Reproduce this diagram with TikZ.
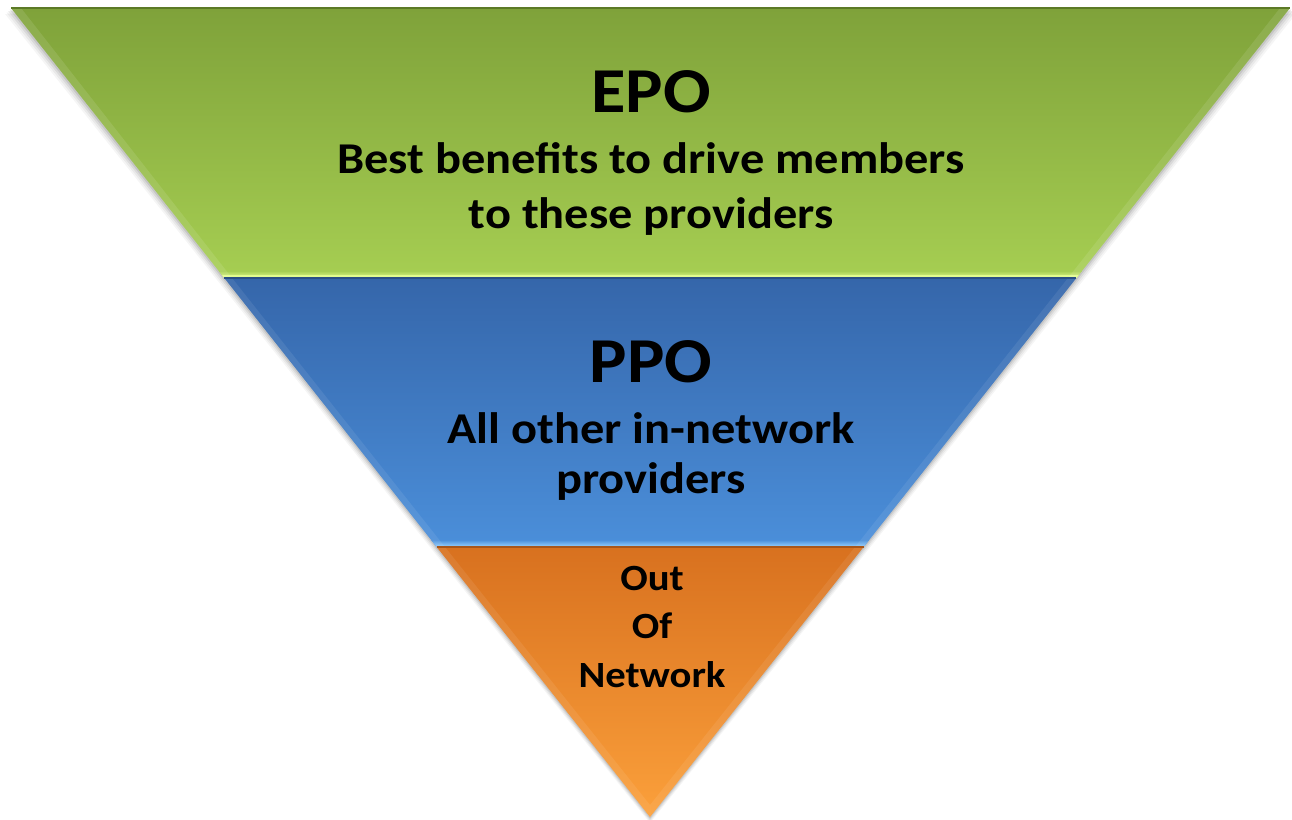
\documentclass[tikz,border=0pt]{standalone}
\usepackage{fontspec}
\setmainfont{Carlito}[FakeStretch=1.1]
\definecolor{gTop}{HTML}{7FA23A}
\definecolor{gBot}{HTML}{A6CE52}
\definecolor{gLite}{HTML}{E2FC8E}
\definecolor{gDark}{HTML}{5C7A26}
\definecolor{bTop}{HTML}{3566AA}
\definecolor{bBot}{HTML}{4B8FDA}
\definecolor{bLite}{HTML}{9AD4FF}
\definecolor{bDark}{HTML}{2A4F86}
\definecolor{oTop}{HTML}{D8711F}
\definecolor{oBot}{HTML}{FBA03B}
\definecolor{oDark}{HTML}{A8561A}
\tikzset{
  big/.style={anchor=base,font=\bfseries\fontsize{64}{64}\selectfont,inner sep=0pt},
  mid/.style={anchor=base,font=\bfseries\fontsize{44}{44}\selectfont,inner sep=0pt},
  small/.style={anchor=base,font=\bfseries\fontsize{37}{37}\selectfont,inner sep=0pt},
}
\begin{document}
\begin{tikzpicture}[x=1pt,y=-1pt]
\useasboundingbox (0,0) rectangle (1292,819);
\coordinate (TL) at (11,8);
\coordinate (TR) at (1290,8);
\coordinate (A) at (650,817);
\coordinate (L1) at (224.3,278);
\coordinate (R1) at (1076.4,278);
\coordinate (L2) at (436.7,547);
\coordinate (R2) at (863.6,547);
% soft shadow
\foreach \d/\o in {6/0.04,4.5/0.05,3/0.07,1.5/0.09}{
  \fill[black,opacity=\o] (11-\d,8+\d) -- (1290+\d,8+\d) -- (650,817+\d) -- cycle;
}
% green band
\shade[top color=gTop,bottom color=gBot] (TL) -- (TR) -- (R1) -- (L1) -- cycle;
\shade[top color=gBot,bottom color=gLite] (218.8,271) -- (1081.9,271) -- (R1) -- (L1) -- cycle;
\fill[gLite] (221.9,275) -- (1078.8,275) -- (R1) -- (L1) -- cycle;
\fill[white,opacity=0.10] (TL) -- (L1) -- (232,278) -- (21,8) -- cycle;
\fill[white,opacity=0.10] (TR) -- (R1) -- (1068,278) -- (1280,8) -- cycle;
\draw[gDark,line width=1.5pt] (TL) -- (TR);
% blue band
\shade[top color=bTop,bottom color=bBot] (L1) -- (R1) -- (R2) -- (L2) -- cycle;
\shade[top color=bBot,bottom color=bLite] (431.2,540) -- (869.2,540) -- (R2) -- (L2) -- cycle;
\fill[white,opacity=0.08] (L1) -- (L2) -- (445,547) -- (232,278) -- cycle;
\fill[white,opacity=0.08] (R1) -- (R2) -- (855,547) -- (1068,278) -- cycle;
\draw[bDark,line width=1.2pt] (L1) -- (R1);
% orange band
\shade[top color=oTop,bottom color=oBot] (L2) -- (R2) -- (A) -- cycle;
\fill[white,opacity=0.08] (L2) -- (A) -- (650,805) -- (445,547) -- cycle;
\fill[white,opacity=0.08] (R2) -- (A) -- (650,805) -- (855,547) -- cycle;
\draw[oDark,line width=1.2pt] (L2) -- (R2);
% texts
\node[big] (epo) at (651,112) {EPO};
\node[mid] (epo1) at (651,173) {Best benefits to drive members};
\node[mid] (epo2) at (651,228) {to these providers};
\node[big] (ppo) at (651,382) {PPO};
\node[mid] (ppo1) at (651,443) {All other in-network};
\node[mid] (ppo2) at (651,493) {providers};
\node[small] (out1) at (652,590) {Out};
\node[small] (out2) at (652,638) {Of};
\node[small] (out3) at (652,687) {Network};
\end{tikzpicture}
\end{document}
